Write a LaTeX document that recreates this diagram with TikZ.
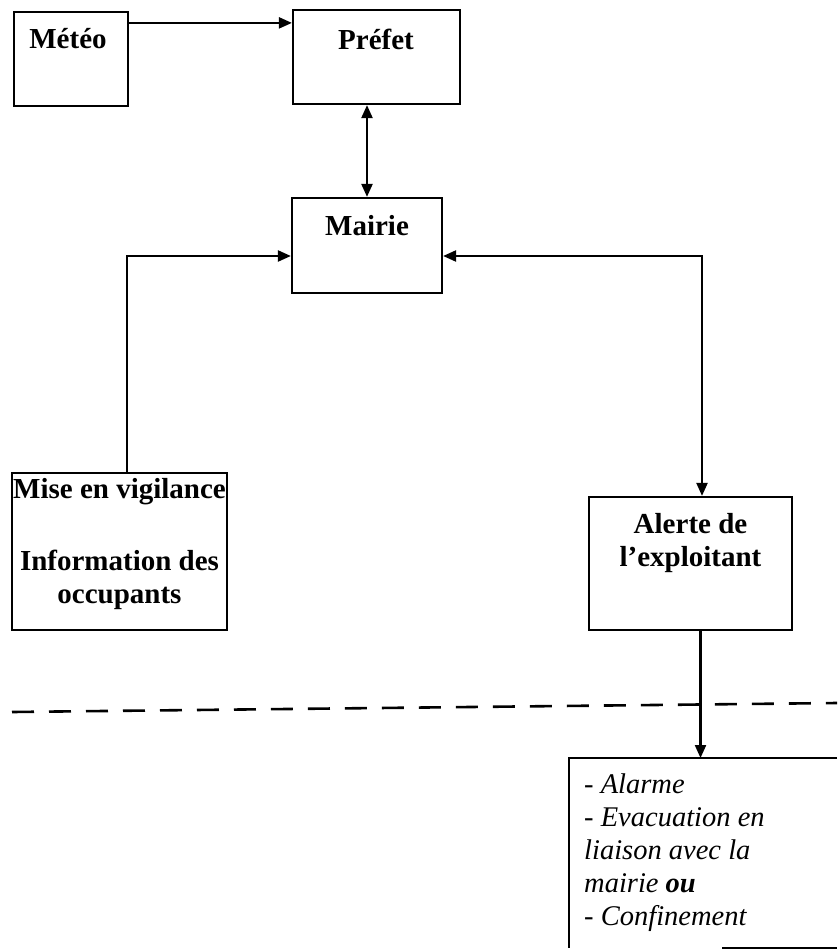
\documentclass[tikz,border=0pt]{standalone}
\usepackage{fontspec}
\setmainfont{Liberation Serif}
\usetikzlibrary{arrows.meta}
\tikzset{
  box/.style={draw, line width=2.2pt, inner sep=0pt, rectangle},
  btext/.style={font=\bfseries\fontsize{29}{33}\selectfont, inner sep=0pt, align=center},
  itext/.style={font=\itshape\fontsize{28.5}{33}\selectfont, inner sep=0pt, align=left, anchor=north west},
  link/.style={line width=2.2pt},
  arr/.style={link, -{Triangle[length=13pt,width=11pt]}},
  arrr/.style={link, {Triangle[length=13pt,width=11pt]}-{Triangle[length=13pt,width=11pt]}},
  sep/.style={line width=2.6pt, dash pattern=on 22pt off 15pt}
}
\begin{document}
\begin{tikzpicture}[x=1pt,y=-1pt]
\useasboundingbox (0,0) rectangle (837,949);
% boxes
\node[box, minimum width=114pt, minimum height=94pt] (meteo) at (71,59) {};
\node[box, minimum width=167pt, minimum height=94pt] (prefet) at (376.5,57) {};
\node[box, minimum width=150pt, minimum height=95pt] (mairie) at (367,245.5) {};
\node[box, minimum width=215pt, minimum height=157pt] (mise) at (119.5,551.5) {};
\node[box, minimum width=203pt, minimum height=133pt] (alerte) at (690.5,563.5) {};
% texts
\node[btext] (tmeteo) at (68,39) {Météo};
\node[btext] (tprefet) at (376,39) {Préfet};
\node[btext] (tmairie) at (367,226) {Mairie};
\node[btext] (tmise1) at (119.5,492) {Mise en vigilance};
\node[btext, align=center] (tmise2) at (119.5,580) {Information des\\occupants};
\node[btext] (talerte) at (690.5,543) {Alerte de\\l’exploitant};
% alarm box (partly outside the picture)
\coordinate (atl) at (569,758);
\coordinate (atr) at (837,758);
\coordinate (abl) at (569,948);
\coordinate (abm) at (722,948);
\coordinate (abr) at (837,948);
\draw[link] (atr) -- (atl) -- (abl);
\draw[link] (abm) -- (abr);
\node[itext] (talarm) at (584,774) {- Alarme\\- Evacuation en\\liaison avec la\\mairie \textbf{ou}\\- Confinement};
% dashed separator
\coordinate (d1) at (12,712);
\coordinate (d2) at (837,703);
\draw[sep] (d1) -- (d2);
% connectors
\draw[arr] ([yshift=-12pt]meteo.north east) -- ([yshift=-14pt]prefet.north west);
\draw[arrr] (mairie.north |- prefet.south) -- (mairie.north);
\draw[arr] ([xshift=7.5pt]mise.north) |- ([yshift=-10.5pt]mairie.west);
\draw[arrr] ([yshift=-10.5pt]mairie.east) -| ([xshift=11.5pt]alerte.north);
\draw[arr] ([xshift=10pt]alerte.south) -- ([xshift=10pt]alerte.south |- atl);
\end{tikzpicture}
\end{document}
